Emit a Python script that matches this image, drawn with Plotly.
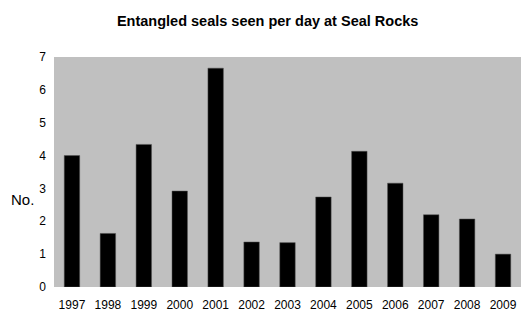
import plotly.graph_objects as go

years = ["1997", "1998", "1999", "2000", "2001", "2002", "2003",
         "2004", "2005", "2006", "2007", "2008", "2009"]
seals_per_day = [4.00, 1.63, 4.34, 2.92, 6.66, 1.37, 1.35,
                 2.74, 4.13, 3.16, 2.20, 2.07, 1.00]
y_ticks = [0, 1, 2, 3, 4, 5, 6, 7]

fig = go.Figure(
    go.Bar(
        x=years,
        y=seals_per_day,
        marker=dict(color="black", line=dict(color="#555555", width=0.5)),
        hoverinfo="x+y",
    )
)

fig.update_layout(
    width=530,
    height=325,
    margin=dict(l=54, r=9, t=57, b=38),
    paper_bgcolor="white",
    plot_bgcolor="#c0c0c0",
    bargap=0.57,
    showlegend=False,
    font=dict(family="Liberation Sans, Arial, sans-serif", color="black", size=12),
    title=dict(
        text="<b>Entangled seals seen per day at Seal Rocks</b>",
        x=0.505,
        xanchor="center",
        y=0.935,
        yanchor="middle",
        font=dict(size=14.5, family="Liberation Sans, Arial, sans-serif"),
    ),
    xaxis=dict(
        type="category",
        showgrid=False,
        showline=False,
        ticks="",
        tickfont=dict(size=12),
        ticklabelstandoff=9,
    ),
    yaxis=dict(
        range=[0, 7],
        tickvals=y_ticks,
        showgrid=False,
        zeroline=False,
        showline=False,
        ticks="",
        tickfont=dict(size=12),
        ticklabelstandoff=7,
    ),
    annotations=[
        dict(
            text="No.",
            xref="paper",
            yref="paper",
            x=-0.038,
            y=0.38,
            xanchor="right",
            yanchor="middle",
            showarrow=False,
            font=dict(size=15),
        )
    ],
)

fig.write_html("out.html")
